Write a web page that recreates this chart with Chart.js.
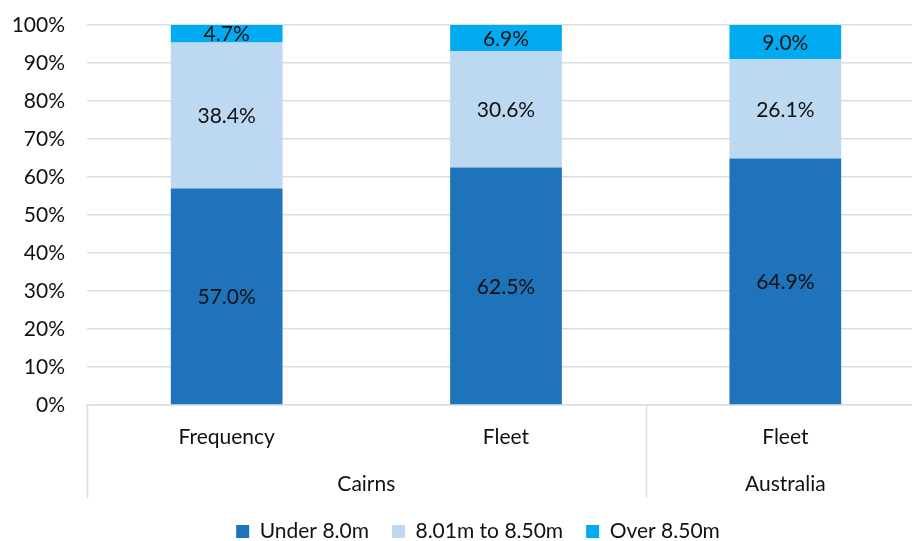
<!DOCTYPE html>
<html>
<head>
<meta charset="utf-8">
<script src="https://cdn.jsdelivr.net/npm/chart.js@4/dist/chart.umd.min.js"></script>
<style>
  html, body { margin: 0; padding: 0; background: #fff; }
  #wrap { width: 912px; height: 541px; overflow: hidden; position: relative; }
  canvas { position: absolute; left: 0; top: 0; }
</style>
</head>
<body>
<div id="wrap"><canvas id="chart" width="956" height="541"></canvas></div>
<script>
// categories (inner row) and their outer group labels
const categories = ['Frequency', 'Fleet', 'Fleet'];
const groups = ['Cairns', 'Australia'];
const groupStart = [0, 2];
const groupEnd = [1, 2];

// series, percent share
const under8 = [57.0, 62.5, 64.9];
const mid8 = [38.4, 30.6, 26.1];
const over850 = [4.7, 6.9, 9.0];

const yTicks = [0, 10, 20, 30, 40, 50, 60, 70, 80, 90, 100];

const FONT = 'Lato, "Noto Sans", sans-serif';
const GRID = '#dadfe4';

// write the value in the middle of each segment
const segmentLabels = {
  id: 'segmentLabels',
  afterDatasetsDraw(chart) {
    const ctx = chart.ctx;
    ctx.save();
    ctx.font = '21px ' + FONT;
    ctx.fillStyle = '#111';
    ctx.textAlign = 'center';
    ctx.textBaseline = 'middle';
    chart.data.datasets.forEach((ds, i) => {
      chart.getDatasetMeta(i).data.forEach((bar, j) => {
        const y = (bar.y + bar.base) / 2;
        ctx.fillText(ds.data[j].toFixed(1) + '%', bar.x, y + 1);
      });
    });
    ctx.restore();
  }
};

// outer category row: separators and group names
const groupAxis = {
  id: 'groupAxis',
  afterLayout(chart) {
    // centre the legend on the whole canvas rather than the padded box
    chart.legend.left += 15.5;
    chart.legend.right += 15.5;
  },
  afterDraw(chart) {
    const ctx = chart.ctx;
    const x = chart.scales.x;
    const top = chart.chartArea.bottom;
    const bottom = top + 93;
    ctx.save();
    ctx.strokeStyle = GRID;
    ctx.lineWidth = 1.5;
    const edges = [-0.5].concat(groupEnd.map(e => e + 0.5));
    edges.forEach(v => {
      const px = Math.round(x.getPixelForValue(v)) + 0.5;
      ctx.beginPath();
      ctx.moveTo(px, top);
      ctx.lineTo(px, bottom);
      ctx.stroke();
    });
    ctx.font = '21px ' + FONT;
    ctx.fillStyle = '#111';
    ctx.textAlign = 'center';
    ctx.textBaseline = 'middle';
    groups.forEach((g, i) => {
      const cx = (x.getPixelForValue(groupStart[i]) + x.getPixelForValue(groupEnd[i])) / 2;
      ctx.fillText(g, cx, top + 79);
    });
    ctx.restore();
  }
};

new Chart(document.getElementById('chart'), {
  type: 'bar',
  data: {
    labels: categories,
    datasets: [
      { label: 'Under 8.0m', data: under8, backgroundColor: '#1f73bb' },
      { label: '8.01m to 8.50m', data: mid8, backgroundColor: '#bdd9f1' },
      { label: 'Over 8.50m', data: over850, backgroundColor: '#00abf2' }
    ]
  },
  options: {
    responsive: false,
    animation: false,
    devicePixelRatio: 1,
    layout: { padding: { top: 25, right: 31, left: 0, bottom: -11 } },
    datasets: { bar: { categoryPercentage: 1, barPercentage: 0.4, borderWidth: 0 } },
    scales: {
      x: {
        stacked: true,
        grid: { display: false, drawTicks: false },
        border: { display: true, color: GRID, width: 1.5 },
        ticks: { color: '#111', font: { family: FONT, size: 21 }, padding: 20 },
        afterFit(s) { s.height = 93; s.paddingLeft = 0; s.paddingRight = 0; }
      },
      y: {
        stacked: true,
        min: 0,
        max: 100,
        grid: { color: GRID, lineWidth: 1.5, drawTicks: false },
        border: { display: false },
        afterBuildTicks(s) { s.ticks = yTicks.map(v => ({ value: v })); },
        ticks: {
          color: '#111',
          font: { family: FONT, size: 21 },
          padding: 22,
          callback: v => v + '%'
        },
        afterFit(s) { s.width = 87; s.paddingTop = 0; s.paddingBottom = 0; }
      }
    },
    plugins: {
      tooltip: { enabled: false },
      legend: {
        position: 'bottom',
        labels: {
          color: '#111',
          font: { family: FONT, size: 21 },
          boxWidth: 13,
          boxHeight: 13,
          padding: 23
        }
      }
    }
  },
  plugins: [segmentLabels, groupAxis]
});
</script>
</body>
</html>
